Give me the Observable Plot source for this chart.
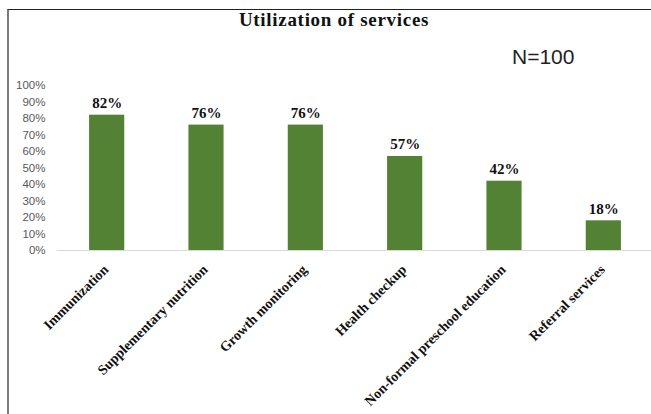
<!DOCTYPE html>
<html>
<head>
<meta charset="utf-8">
<script src="https://cdn.jsdelivr.net/npm/d3@7"></script>
<script src="https://cdn.jsdelivr.net/npm/@observablehq/plot@0.6"></script>
<style>
  html, body { margin: 0; padding: 0; background: #fff; }
  #wrap { position: relative; width: 651px; height: 414px; overflow: hidden; }
  #frame { position: absolute; left: 7px; top: 9px; width: 700px; height: 420px;
           border-top: 1px solid #222; border-left: 2px solid #7a7a7a; box-sizing: border-box; }
  #title { position: absolute; left: 0; width: 668px; top: 9px; text-align: center;
           font: bold 19px "Liberation Serif", serif; letter-spacing: 0.7px; color: #111; }
  #n { position: absolute; left: 512px; top: 45px; font: 21px "Liberation Sans", sans-serif; color: #222; }
  #chart { position: absolute; left: 0; top: 0; }
</style>
</head>
<body>
<div id="wrap">
  <div id="frame"></div>
  <div id="chart"></div>
  <div id="title">Utilization of services</div>
  <div id="n">N=100</div>
</div>
<script>
const categories = ["Immunization", "Supplementary nutrition", "Growth monitoring", "Health checkup", "Non-formal preschool education", "Referral services"];
const values = [0.82, 0.76, 0.76, 0.57, 0.42, 0.18];
const yTicks = [0, 0.1, 0.2, 0.3, 0.4, 0.5, 0.6, 0.7, 0.8, 0.9, 1.0];

const data = categories.map((c, i) => ({category: c, value: values[i]}));
const pct = d3.format(".0%");

const chart = Plot.plot({
  width: 651,
  height: 414,
  marginTop: 85,
  marginBottom: 164,
  marginLeft: 57,
  marginRight: -2,
  style: {background: "transparent", overflow: "visible"},
  x: {domain: categories, paddingInner: 0.646, paddingOuter: 0.323, round: false, axis: null},
  y: {domain: [0, 1], axis: null},
  marks: [
    Plot.axisY({ticks: yTicks, tickFormat: pct, tickSize: 0, tickPadding: 12, label: null,
      fontSize: 11.5, fontFamily: "Liberation Sans, sans-serif", color: "#595959"}),
    Plot.ruleY([0], {stroke: "#d9d9d9", strokeWidth: 1}),
    Plot.barY(data, {x: "category", y: "value", fill: "#548235"}),
    Plot.text(data, {x: "category", y: "value", text: d => pct(d.value), dy: -7,
      lineAnchor: "bottom", fontSize: 15, fontWeight: "bold",
      fontFamily: "Liberation Serif, serif", fill: "#111"}),
    Plot.text(data, {x: "category", y: () => 0, text: "category", rotate: -45,
      textAnchor: "end", lineAnchor: "bottom", dx: 2, dy: 20, fontSize: 14,
      fontWeight: "bold", fontFamily: "Liberation Serif, serif", fill: "#111"})
  ]
});
document.getElementById("chart").appendChild(chart);
</script>
</body>
</html>
